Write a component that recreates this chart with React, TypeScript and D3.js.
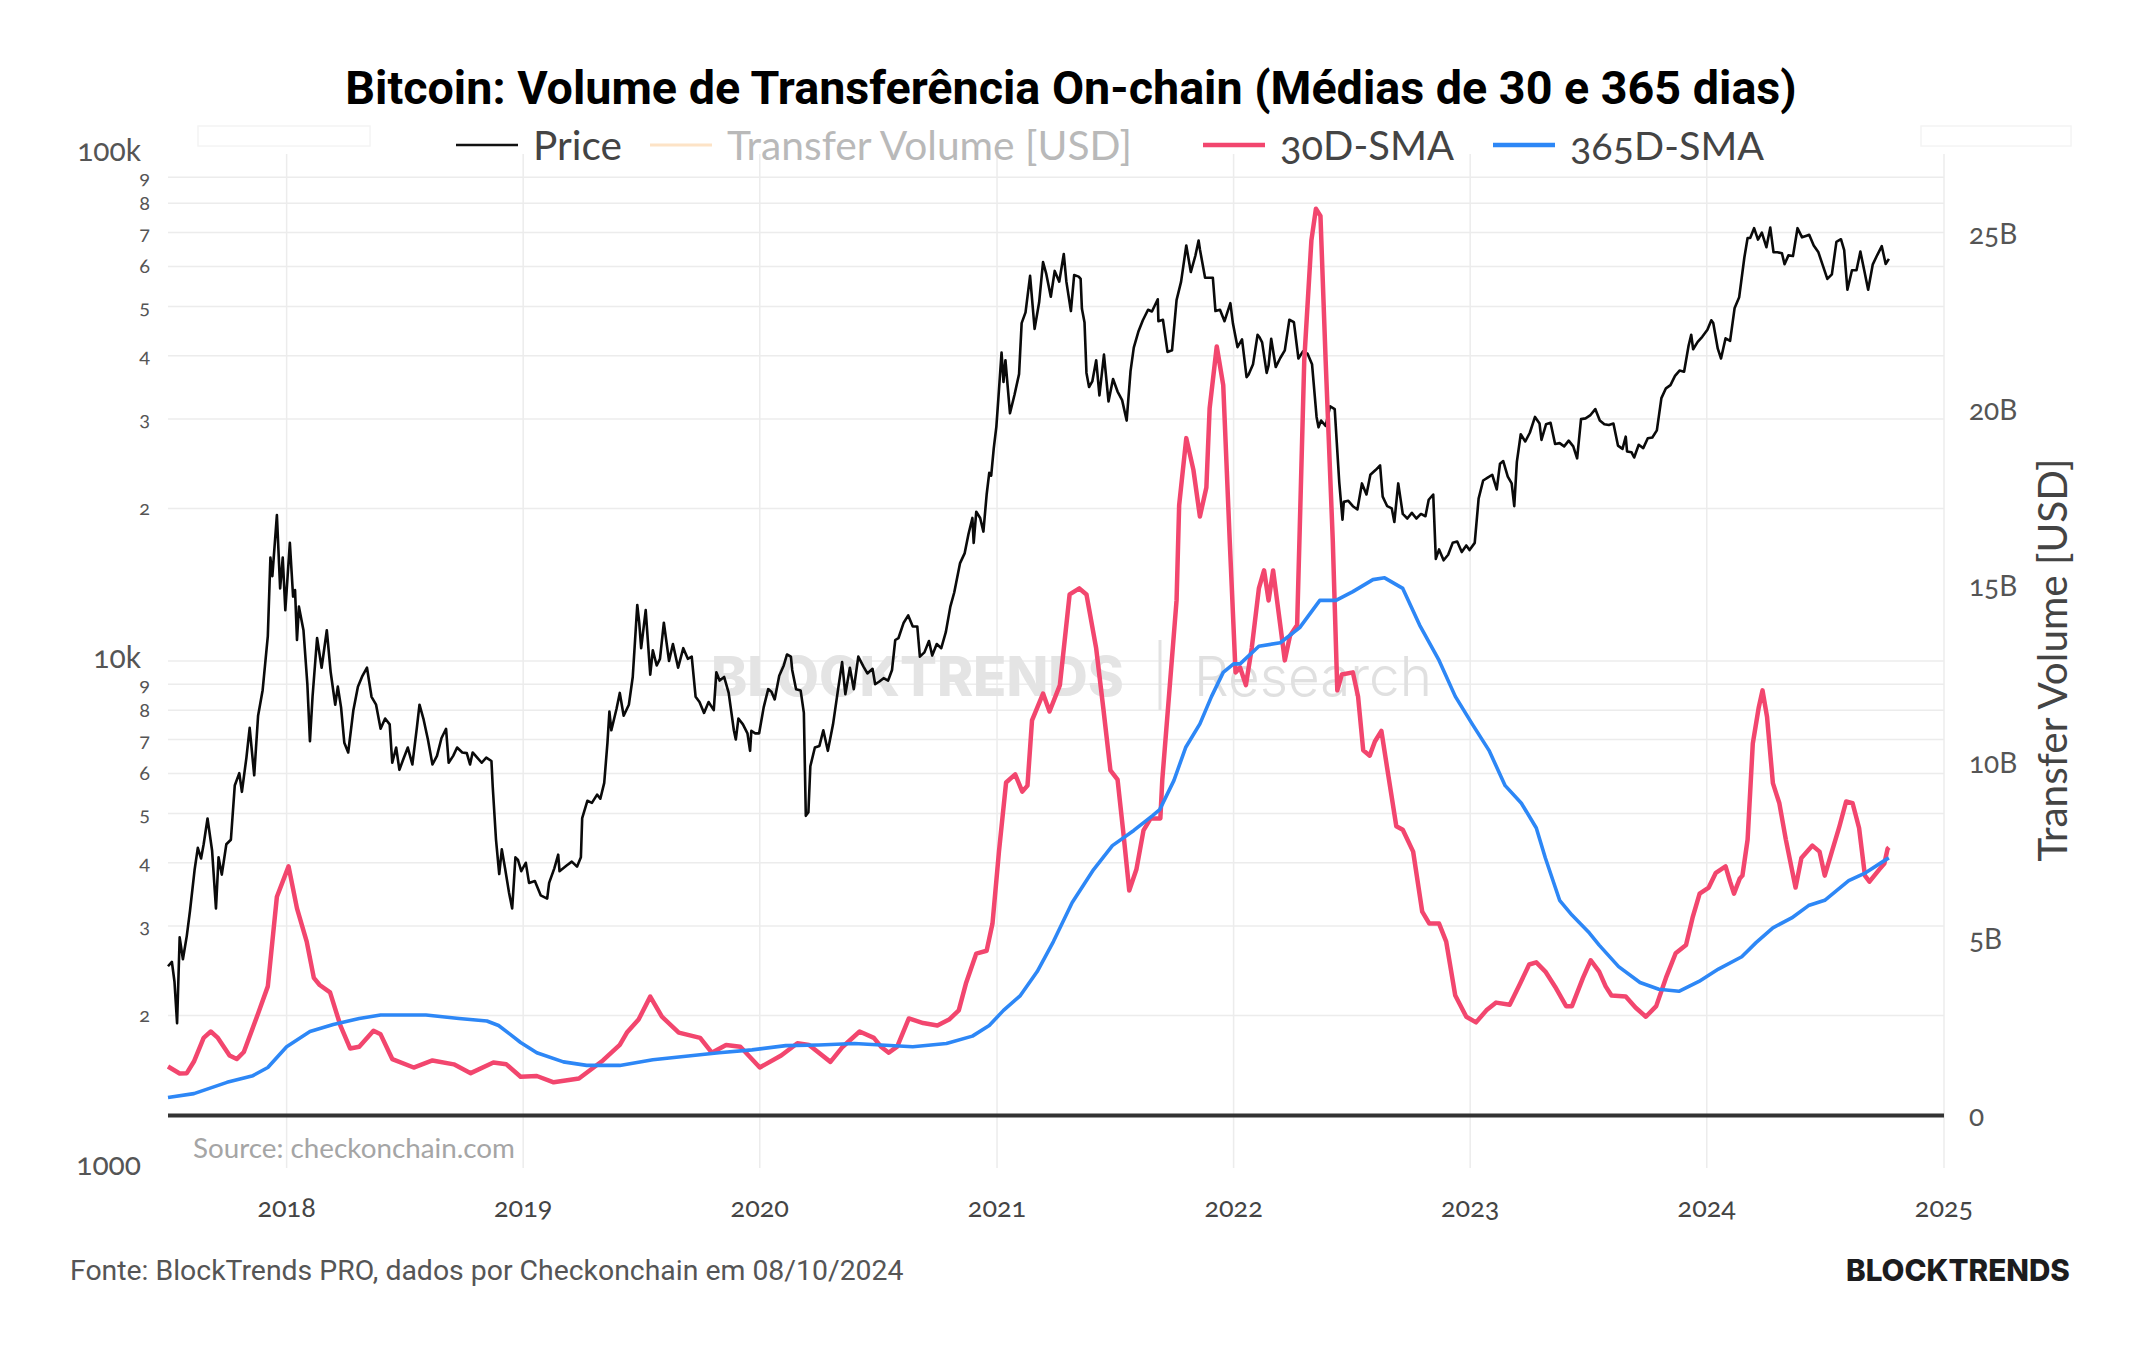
import React, { useLayoutEffect, useRef } from "react";
import * as d3 from "d3";

// ---- Data ---------------------------------------------------------------
// BTC price (USD), left log axis
const priceSeries: [string, number][] = [
  ["2017-07-02", 2500], ["2017-07-08", 2550], ["2017-07-12", 2330], ["2017-07-16", 1930], ["2017-07-20", 2850], ["2017-07-25", 2580], ["2017-07-31", 2870],
  ["2017-08-05", 3220], ["2017-08-12", 3870], ["2017-08-17", 4280], ["2017-08-22", 4080], ["2017-08-26", 4350],
  ["2017-09-01", 4890], ["2017-09-08", 4230], ["2017-09-14", 3250], ["2017-09-18", 4100], ["2017-09-23", 3790], ["2017-09-30", 4350],
  ["2017-10-07", 4440], ["2017-10-13", 5680], ["2017-10-20", 6010], ["2017-10-24", 5520], ["2017-10-31", 6450],
  ["2017-11-05", 7380], ["2017-11-12", 5950], ["2017-11-18", 7800], ["2017-11-25", 8760], ["2017-11-29", 9900],
  ["2017-12-03", 11200], ["2017-12-07", 16000], ["2017-12-10", 14700], ["2017-12-17", 19400], ["2017-12-22", 13900], ["2017-12-26", 16000], ["2017-12-30", 12600],
  ["2018-01-06", 17100], ["2018-01-11", 13400], ["2018-01-14", 13800], ["2018-01-17", 11000], ["2018-01-20", 12800], ["2018-01-27", 11500],
  ["2018-02-02", 9000], ["2018-02-06", 6950], ["2018-02-10", 8500], ["2018-02-17", 11100], ["2018-02-24", 9700],
  ["2018-03-04", 11500], ["2018-03-10", 9500], ["2018-03-17", 8200], ["2018-03-21", 8900], ["2018-03-26", 8100], ["2018-03-31", 6900],
  ["2018-04-06", 6600], ["2018-04-14", 8000], ["2018-04-21", 8900], ["2018-04-28", 9350],
  ["2018-05-05", 9700], ["2018-05-12", 8500], ["2018-05-19", 8200], ["2018-05-26", 7350],
  ["2018-06-02", 7700], ["2018-06-09", 7500], ["2018-06-13", 6300], ["2018-06-19", 6750], ["2018-06-24", 6100], ["2018-06-30", 6400],
  ["2018-07-07", 6750], ["2018-07-14", 6250], ["2018-07-21", 7400], ["2018-07-25", 8200], ["2018-07-31", 7700],
  ["2018-08-07", 7000], ["2018-08-14", 6250], ["2018-08-21", 6500], ["2018-08-28", 7050],
  ["2018-09-04", 7350], ["2018-09-08", 6300], ["2018-09-15", 6500], ["2018-09-21", 6750], ["2018-09-29", 6600],
  ["2018-10-06", 6580], ["2018-10-11", 6250], ["2018-10-15", 6600], ["2018-10-22", 6450], ["2018-10-29", 6300],
  ["2018-11-05", 6450], ["2018-11-13", 6350], ["2018-11-15", 5650], ["2018-11-20", 4450], ["2018-11-25", 3800], ["2018-11-29", 4250],
  ["2018-12-04", 3900], ["2018-12-10", 3500], ["2018-12-15", 3250], ["2018-12-20", 4100], ["2018-12-24", 4050], ["2018-12-29", 3850],
  ["2019-01-05", 4000], ["2019-01-10", 3650], ["2019-01-19", 3680], ["2019-01-28", 3450],
  ["2019-02-07", 3400], ["2019-02-10", 3650], ["2019-02-18", 3900], ["2019-02-24", 4150], ["2019-02-26", 3850],
  ["2019-03-09", 3950], ["2019-03-17", 4020], ["2019-03-25", 3930], ["2019-03-31", 4100],
  ["2019-04-02", 4900], ["2019-04-10", 5300], ["2019-04-17", 5250], ["2019-04-25", 5450], ["2019-04-30", 5350],
  ["2019-05-06", 5750], ["2019-05-11", 6900], ["2019-05-14", 7950], ["2019-05-17", 7300], ["2019-05-25", 8050], ["2019-05-30", 8650],
  ["2019-06-05", 7800], ["2019-06-13", 8200], ["2019-06-19", 9300], ["2019-06-22", 10700], ["2019-06-26", 12900], ["2019-06-29", 11900], ["2019-07-02", 10600],
  ["2019-07-09", 12600], ["2019-07-16", 9400], ["2019-07-20", 10500], ["2019-07-26", 9800], ["2019-07-31", 10100],
  ["2019-08-06", 11900], ["2019-08-14", 10000], ["2019-08-20", 10800], ["2019-08-28", 9700],
  ["2019-09-05", 10600], ["2019-09-12", 10100], ["2019-09-18", 10200], ["2019-09-24", 8500], ["2019-09-30", 8300],
  ["2019-10-07", 7900], ["2019-10-14", 8300], ["2019-10-22", 8000], ["2019-10-26", 9500], ["2019-10-31", 9150],
  ["2019-11-07", 9300], ["2019-11-14", 8650], ["2019-11-22", 7300], ["2019-11-25", 7000], ["2019-11-29", 7700],
  ["2019-12-06", 7500], ["2019-12-13", 7200], ["2019-12-17", 6650], ["2019-12-19", 7280], ["2019-12-25", 7200], ["2019-12-31", 7200],
  ["2020-01-07", 8100], ["2020-01-14", 8800], ["2020-01-19", 8700], ["2020-01-24", 8400], ["2020-01-31", 9350],
  ["2020-02-07", 9800], ["2020-02-12", 10300], ["2020-02-18", 10200], ["2020-02-20", 9600], ["2020-02-26", 8800],
  ["2020-03-04", 8750], ["2020-03-09", 7900], ["2020-03-12", 4950], ["2020-03-16", 5030], ["2020-03-19", 6200], ["2020-03-26", 6750],
  ["2020-04-02", 6800], ["2020-04-08", 7300], ["2020-04-15", 6650], ["2020-04-23", 7500], ["2020-04-30", 8650],
  ["2020-05-07", 9950], ["2020-05-12", 8600], ["2020-05-19", 9700], ["2020-05-25", 8800], ["2020-06-01", 10200],
  ["2020-06-09", 9750], ["2020-06-15", 9450], ["2020-06-23", 9650], ["2020-06-27", 9000], ["2020-07-03", 9100],
  ["2020-07-10", 9250], ["2020-07-17", 9150], ["2020-07-23", 9600], ["2020-07-28", 11000],
  ["2020-08-02", 11100], ["2020-08-10", 11900], ["2020-08-17", 12300], ["2020-08-24", 11700], ["2020-08-31", 11700],
  ["2020-09-04", 10200], ["2020-09-11", 10400], ["2020-09-18", 10950], ["2020-09-23", 10250], ["2020-09-30", 10800],
  ["2020-10-07", 10600], ["2020-10-14", 11400], ["2020-10-21", 12800], ["2020-10-27", 13650],
  ["2020-11-05", 15600], ["2020-11-12", 16300], ["2020-11-18", 17800], ["2020-11-24", 19150], ["2020-11-26", 17100], ["2020-11-30", 19700],
  ["2020-12-06", 19150], ["2020-12-11", 18000], ["2020-12-16", 21300], ["2020-12-20", 23500], ["2020-12-23", 23200], ["2020-12-27", 26300], ["2020-12-31", 29000],
  ["2021-01-03", 32800], ["2021-01-08", 40600], ["2021-01-11", 35500], ["2021-01-14", 39200], ["2021-01-21", 30800], ["2021-01-28", 33500],
  ["2021-02-04", 36800], ["2021-02-08", 46400], ["2021-02-14", 48700], ["2021-02-21", 57500], ["2021-02-28", 45200],
  ["2021-03-07", 51000], ["2021-03-13", 61200], ["2021-03-18", 58000], ["2021-03-25", 52300], ["2021-03-31", 58800],
  ["2021-04-07", 56000], ["2021-04-14", 63500], ["2021-04-18", 56000], ["2021-04-25", 49000], ["2021-04-30", 57700],
  ["2021-05-07", 57300], ["2021-05-10", 56700], ["2021-05-12", 49500], ["2021-05-16", 46500], ["2021-05-19", 37000], ["2021-05-23", 34700], ["2021-05-28", 35600],
  ["2021-06-03", 39200], ["2021-06-08", 33400], ["2021-06-15", 40200], ["2021-06-22", 32500], ["2021-06-29", 36000],
  ["2021-07-06", 34000], ["2021-07-13", 32700], ["2021-07-20", 29800], ["2021-07-26", 37300], ["2021-07-31", 41500],
  ["2021-08-07", 44600], ["2021-08-14", 47000], ["2021-08-22", 49300], ["2021-08-28", 48900],
  ["2021-09-06", 51700], ["2021-09-07", 46800], ["2021-09-14", 47100], ["2021-09-21", 40700], ["2021-09-28", 41000],
  ["2021-10-05", 51500], ["2021-10-12", 56000], ["2021-10-20", 66000], ["2021-10-27", 58500],
  ["2021-11-03", 63000], ["2021-11-08", 67500], ["2021-11-10", 64900], ["2021-11-18", 57000], ["2021-11-24", 57000], ["2021-11-30", 57000],
  ["2021-12-04", 49000], ["2021-12-11", 49300], ["2021-12-18", 46800], ["2021-12-27", 50800], ["2021-12-31", 46300],
  ["2022-01-07", 41600], ["2022-01-14", 43100], ["2022-01-21", 36300], ["2022-01-24", 36700], ["2022-01-31", 38500],
  ["2022-02-07", 44000], ["2022-02-10", 43500], ["2022-02-14", 42500], ["2022-02-21", 37000], ["2022-02-24", 38300], ["2022-02-28", 43200],
  ["2022-03-07", 38000], ["2022-03-14", 39600], ["2022-03-21", 41000], ["2022-03-28", 47100],
  ["2022-04-04", 46600], ["2022-04-11", 39500], ["2022-04-18", 40800], ["2022-04-25", 40400],
  ["2022-05-02", 38500], ["2022-05-09", 30300], ["2022-05-12", 28900], ["2022-05-16", 29800], ["2022-05-23", 29100], ["2022-05-30", 31800],
  ["2022-06-06", 31400], ["2022-06-13", 22500], ["2022-06-18", 19000], ["2022-06-20", 20600], ["2022-06-27", 20700],
  ["2022-07-04", 20200], ["2022-07-11", 19900], ["2022-07-18", 22400], ["2022-07-25", 21300], ["2022-07-31", 23300],
  ["2022-08-08", 23800], ["2022-08-15", 24300], ["2022-08-19", 21100], ["2022-08-26", 20200],
  ["2022-09-02", 20000], ["2022-09-06", 18800], ["2022-09-12", 22400], ["2022-09-19", 19500], ["2022-09-26", 19100],
  ["2022-10-03", 19600], ["2022-10-10", 19100], ["2022-10-17", 19500], ["2022-10-24", 19300], ["2022-10-29", 20800],
  ["2022-11-05", 21300], ["2022-11-09", 15900], ["2022-11-14", 16600], ["2022-11-21", 15800], ["2022-11-28", 16200],
  ["2022-12-05", 17100], ["2022-12-12", 17200], ["2022-12-19", 16400], ["2022-12-26", 16900], ["2022-12-31", 16550],
  ["2023-01-08", 17100], ["2023-01-14", 20900], ["2023-01-21", 22700], ["2023-01-28", 23000],
  ["2023-02-04", 23300], ["2023-02-11", 21800], ["2023-02-16", 24500], ["2023-02-21", 24800], ["2023-02-28", 23100],
  ["2023-03-06", 22400], ["2023-03-10", 20200], ["2023-03-14", 24700], ["2023-03-20", 28000], ["2023-03-27", 27100],
  ["2023-04-03", 28200], ["2023-04-11", 30300], ["2023-04-18", 29400], ["2023-04-21", 27300], ["2023-04-28", 29300],
  ["2023-05-05", 29500], ["2023-05-12", 26800], ["2023-05-19", 26900], ["2023-05-26", 26500],
  ["2023-06-02", 27200], ["2023-06-09", 26500], ["2023-06-15", 25100], ["2023-06-21", 30000], ["2023-06-28", 30100],
  ["2023-07-05", 30500], ["2023-07-13", 31400], ["2023-07-20", 29800], ["2023-07-27", 29300],
  ["2023-08-03", 29200], ["2023-08-10", 29400], ["2023-08-17", 26600], ["2023-08-24", 26200], ["2023-08-29", 27700], ["2023-08-31", 25900],
  ["2023-09-07", 25800], ["2023-09-11", 25200], ["2023-09-18", 26700], ["2023-09-25", 26300],
  ["2023-10-02", 27500], ["2023-10-09", 27600], ["2023-10-16", 28500], ["2023-10-23", 33000], ["2023-10-30", 34500],
  ["2023-11-06", 35000], ["2023-11-13", 36500], ["2023-11-20", 37400], ["2023-11-27", 37200],
  ["2023-12-04", 41900], ["2023-12-08", 44000], ["2023-12-11", 41200], ["2023-12-18", 42600], ["2023-12-25", 43600],
  ["2024-01-02", 45000], ["2024-01-08", 47000], ["2024-01-11", 46400], ["2024-01-18", 41300], ["2024-01-23", 39500], ["2024-01-30", 43300],
  ["2024-02-06", 42800], ["2024-02-13", 49700], ["2024-02-20", 52200], ["2024-02-28", 62500],
  ["2024-03-04", 68300], ["2024-03-08", 68300], ["2024-03-14", 71400], ["2024-03-20", 67800], ["2024-03-26", 70000],
  ["2024-04-02", 65500], ["2024-04-08", 71600], ["2024-04-13", 64000], ["2024-04-19", 64000], ["2024-04-26", 63700], ["2024-04-30", 60600],
  ["2024-05-06", 63100], ["2024-05-13", 62900], ["2024-05-20", 71400], ["2024-05-27", 68500],
  ["2024-06-03", 69000], ["2024-06-07", 69300], ["2024-06-14", 66000], ["2024-06-21", 64100], ["2024-06-28", 60300],
  ["2024-07-05", 56700], ["2024-07-12", 57900], ["2024-07-19", 67100], ["2024-07-26", 67900], ["2024-07-31", 64600],
  ["2024-08-05", 54000], ["2024-08-12", 59000], ["2024-08-19", 59000], ["2024-08-25", 64200], ["2024-08-31", 58900],
  ["2024-09-06", 54000], ["2024-09-13", 60500], ["2024-09-20", 63200], ["2024-09-27", 65800],
  ["2024-10-03", 60700], ["2024-10-08", 62100],
];

// Transfer volume, 30-day simple moving average (billions USD), right axis
const sma30Series: [string, number][] = [
  ["2017-07-02", 1.39], ["2017-07-20", 1.19], ["2017-07-31", 1.2], ["2017-08-11", 1.53], ["2017-08-26", 2.2], ["2017-09-06", 2.38],
  ["2017-09-17", 2.2], ["2017-10-05", 1.7], ["2017-10-16", 1.6], ["2017-10-27", 1.8], ["2017-11-18", 2.89], ["2017-12-03", 3.66],
  ["2017-12-17", 6.2], ["2018-01-04", 7.06], ["2018-01-17", 5.87], ["2018-02-01", 4.93], ["2018-02-12", 3.9], ["2018-02-21", 3.7],
  ["2018-03-09", 3.49], ["2018-03-25", 2.55], ["2018-04-09", 1.9], ["2018-04-23", 1.95], ["2018-05-15", 2.4], ["2018-05-26", 2.3],
  ["2018-06-13", 1.6], ["2018-07-16", 1.36], ["2018-08-14", 1.56], ["2018-09-16", 1.45], ["2018-10-12", 1.2], ["2018-11-16", 1.5],
  ["2018-12-06", 1.45], ["2018-12-28", 1.1], ["2019-01-22", 1.12], ["2019-02-17", 0.94], ["2019-03-28", 1.05], ["2019-05-04", 1.56],
  ["2019-05-30", 2.0], ["2019-06-10", 2.35], ["2019-06-28", 2.72], ["2019-07-16", 3.37], ["2019-08-03", 2.8], ["2019-08-29", 2.35],
  ["2019-10-01", 2.2], ["2019-10-19", 1.78], ["2019-11-10", 2.0], ["2019-12-02", 1.95], ["2020-01-01", 1.36], ["2020-02-03", 1.7],
  ["2020-02-28", 2.05], ["2020-03-17", 2.0], ["2020-04-19", 1.52], ["2020-05-08", 1.95], ["2020-06-03", 2.38], ["2020-06-25", 2.2],
  ["2020-07-06", 1.95], ["2020-07-18", 1.78], ["2020-07-31", 1.95], ["2020-08-18", 2.75], ["2020-09-09", 2.62], ["2020-10-01", 2.55],
  ["2020-10-19", 2.72], ["2020-11-03", 2.98], ["2020-11-14", 3.74], ["2020-11-30", 4.59], ["2020-12-16", 4.67], ["2020-12-25", 5.44],
  ["2021-01-04", 7.48], ["2021-01-15", 9.44], ["2021-01-29", 9.67], ["2021-02-09", 9.18], ["2021-02-17", 9.35], ["2021-02-24", 11.2],
  ["2021-03-13", 11.96], ["2021-03-23", 11.45], ["2021-04-08", 12.2], ["2021-04-23", 14.77], ["2021-05-08", 14.94], ["2021-05-19", 14.77],
  ["2021-06-03", 13.24], ["2021-06-14", 11.54], ["2021-06-25", 9.78], ["2021-07-06", 9.52], ["2021-07-15", 8.0], ["2021-07-24", 6.38],
  ["2021-08-04", 6.97], ["2021-08-15", 8.08], ["2021-08-26", 8.42], ["2021-09-10", 8.42], ["2021-09-13", 9.52], ["2021-09-24", 12.05],
  ["2021-10-05", 14.6], ["2021-10-09", 17.3], ["2021-10-20", 19.2], ["2021-10-31", 18.3], ["2021-11-10", 16.98], ["2021-11-20", 17.8],
  ["2021-11-25", 20.04], ["2021-12-06", 21.8], ["2021-12-16", 20.7], ["2021-12-26", 16.3], ["2022-01-04", 12.56], ["2022-01-11", 12.7],
  ["2022-01-20", 12.2], ["2022-01-29", 13.25], ["2022-02-09", 14.94], ["2022-02-17", 15.45], ["2022-02-24", 14.6], ["2022-03-03", 15.45],
  ["2022-03-14", 13.9], ["2022-03-21", 12.9], ["2022-03-29", 13.6], ["2022-04-09", 13.9], ["2022-04-13", 16.6], ["2022-04-20", 21.4],
  ["2022-05-01", 24.8], ["2022-05-08", 25.7], ["2022-05-15", 25.5], ["2022-05-23", 21.4], ["2022-06-03", 16.3], ["2022-06-10", 12.05],
  ["2022-06-17", 12.5], ["2022-07-04", 12.56], ["2022-07-12", 11.88], ["2022-07-20", 10.35], ["2022-07-30", 10.2], ["2022-08-07", 10.6],
  ["2022-08-17", 10.9], ["2022-08-26", 9.84], ["2022-09-09", 8.2], ["2022-09-19", 8.1], ["2022-10-05", 7.48], ["2022-10-19", 5.78],
  ["2022-10-30", 5.44], ["2022-11-14", 5.44], ["2022-11-25", 4.93], ["2022-12-09", 3.4], ["2022-12-26", 2.8], ["2023-01-10", 2.64],
  ["2023-01-26", 2.98], ["2023-02-10", 3.2], ["2023-03-03", 3.14], ["2023-03-18", 3.7], ["2023-04-02", 4.28], ["2023-04-13", 4.34],
  ["2023-04-27", 4.08], ["2023-05-12", 3.65], ["2023-05-29", 3.1], ["2023-06-07", 3.1], ["2023-06-24", 3.9], ["2023-07-06", 4.4],
  ["2023-07-19", 4.08], ["2023-07-29", 3.66], ["2023-08-07", 3.4], ["2023-08-29", 3.37], ["2023-09-13", 3.06], ["2023-09-29", 2.8],
  ["2023-10-15", 3.1], ["2023-10-30", 3.9], ["2023-11-14", 4.6], ["2023-11-30", 4.83], ["2023-12-10", 5.6], ["2023-12-21", 6.29],
  ["2024-01-04", 6.46], ["2024-01-15", 6.88], ["2024-01-30", 7.06], ["2024-02-06", 6.63], ["2024-02-12", 6.29], ["2024-02-21", 6.72],
  ["2024-02-25", 6.8], ["2024-03-04", 7.82], ["2024-03-12", 10.54], ["2024-03-21", 11.55], ["2024-03-27", 12.05], ["2024-04-03", 11.3],
  ["2024-04-12", 9.42], ["2024-04-22", 8.85], ["2024-05-02", 7.82], ["2024-05-17", 6.46], ["2024-05-26", 7.3], ["2024-06-12", 7.65],
  ["2024-06-23", 7.48], ["2024-07-01", 6.8], ["2024-07-12", 7.48], ["2024-07-23", 8.15], ["2024-08-03", 8.9], ["2024-08-13", 8.85],
  ["2024-08-23", 8.15], ["2024-09-01", 6.8], ["2024-09-08", 6.63], ["2024-09-23", 6.97], ["2024-10-01", 7.14], ["2024-10-06", 7.56],
  ["2024-10-08", 7.6],
];

// Transfer volume, 365-day simple moving average (billions USD), right axis
const sma365Series: [string, number][] = [
  ["2017-07-02", 0.51], ["2017-08-11", 0.62], ["2017-10-01", 0.94], ["2017-11-10", 1.13], ["2017-12-03", 1.36], ["2018-01-01", 1.95],
  ["2018-02-06", 2.38], ["2018-03-14", 2.58], ["2018-04-23", 2.75], ["2018-05-26", 2.85], ["2018-08-04", 2.85], ["2018-09-24", 2.75],
  ["2018-11-06", 2.68], ["2018-11-24", 2.55], ["2018-12-12", 2.3], ["2018-12-28", 2.07], ["2019-01-22", 1.78], ["2019-03-04", 1.52],
  ["2019-04-09", 1.42], ["2019-05-30", 1.42], ["2019-07-20", 1.58], ["2019-09-09", 1.68], ["2019-10-30", 1.78], ["2019-12-20", 1.86],
  ["2020-02-10", 1.98], ["2020-04-01", 2.0], ["2020-05-26", 2.04], ["2020-07-06", 2.0], ["2020-08-24", 1.95], ["2020-10-15", 2.04],
  ["2020-11-24", 2.25], ["2020-12-20", 2.55], ["2021-01-11", 2.98], ["2021-02-06", 3.4], ["2021-03-04", 4.08], ["2021-03-29", 4.93],
  ["2021-04-27", 6.04], ["2021-05-30", 6.97], ["2021-06-28", 7.65], ["2021-07-31", 8.08], ["2021-08-29", 8.5], ["2021-09-09", 8.67],
  ["2021-10-01", 9.5], ["2021-10-19", 10.43], ["2021-11-10", 11.1], ["2021-11-28", 11.88], ["2021-12-16", 12.56], ["2022-01-01", 12.8],
  ["2022-01-11", 12.8], ["2022-02-09", 13.3], ["2022-03-14", 13.4], ["2022-04-13", 13.83], ["2022-05-14", 14.6], ["2022-06-08", 14.6],
  ["2022-07-04", 14.85], ["2022-08-04", 15.19], ["2022-08-22", 15.24], ["2022-09-19", 14.94], ["2022-10-15", 13.9], ["2022-11-14", 12.9],
  ["2022-12-09", 11.88], ["2023-01-04", 11.1], ["2023-01-30", 10.35], ["2023-02-24", 9.35], ["2023-03-21", 8.85], ["2023-04-13", 8.15],
  ["2023-04-27", 7.3], ["2023-05-19", 6.1], ["2023-06-07", 5.68], ["2023-07-04", 5.17], ["2023-07-19", 4.83], ["2023-08-18", 4.22],
  ["2023-09-20", 3.77], ["2023-10-19", 3.58], ["2023-11-19", 3.52], ["2023-12-20", 3.8], ["2024-01-19", 4.15], ["2024-02-24", 4.5],
  ["2024-03-17", 4.9], ["2024-04-12", 5.32], ["2024-05-11", 5.6], ["2024-06-06", 5.95], ["2024-07-01", 6.1], ["2024-08-07", 6.66],
  ["2024-09-02", 6.88], ["2024-10-04", 7.26], ["2024-10-08", 7.3],
];

const yearTicks = [2018, 2019, 2020, 2021, 2022, 2023, 2024, 2025];
const priceMajorTicks: [number, string][] = [[1000, "1000"], [10000, "10k"], [100000, "100k"]];
const priceMinorDigits = [2, 3, 4, 5, 6, 7, 8, 9];
const priceDecades = [1000, 10000];
const volumeTicks: [number, string][] = [[0, "0"], [5, "5B"], [10, "10B"], [15, "15B"], [20, "20B"], [25, "25B"]];

const legendItems = [
  { label: "Price", color: "#111111", text: "#444444", width: 2.5, x: 456, w: 89 },
  { label: "Transfer Volume [USD]", color: "#fde3c6", text: "#b9b9b9", width: 3, x: 650, w: 405 },
  { label: "30D-SMA", color: "#f2466e", text: "#444444", width: 4.5, x: 1203, w: 174 },
  { label: "365D-SMA", color: "#2d87f6", text: "#444444", width: 4.5, x: 1493, w: 194 },
];

// ---- Layout -------------------------------------------------------------
const W = 2144;
const H = 1350;
const plotL = 168;
const plotR = 1944;
const plotT = 154;
const plotB = 1168;

const parse = d3.utcParse("%Y-%m-%d");

const LABEL_FONT = "Lato, 'Open Sans', sans-serif";

export default function App() {
  const svgRef = useRef<SVGSVGElement>(null);

  // Scale text with a target width so the drawn run length matches the layout
  useLayoutEffect(() => {
    const svg = svgRef.current;
    if (!svg) return;
    svg.querySelectorAll<SVGTextElement>("text[data-fit]").forEach((t) => {
      const target = parseFloat(t.getAttribute("data-fit") || "0");
      const fs = parseFloat(t.getAttribute("font-size") || "20");
      const w = t.getComputedTextLength();
      if (w > 0 && target > 0) t.setAttribute("font-size", String((fs * target) / w));
    });
  }, []);

  const x = d3.scaleUtc().domain([parse("2017-07-02")!, parse("2025-01-01")!]).range([plotL, plotR]);
  const yPrice = d3.scaleLog().domain([1000, 100000]).range([plotB, plotT]);
  const yVol = d3.scaleLinear().domain([0, 25]).range([1115.5, 233.5]);

  const priceLine = d3
    .line<[string, number]>()
    .x((d) => x(parse(d[0])!))
    .y((d) => yPrice(d[1]));
  const volLine = d3
    .line<[string, number]>()
    .x((d) => x(parse(d[0])!))
    .y((d) => yVol(d[1]));

  const minorTicks: number[] = [];
  priceDecades.forEach((dec) => priceMinorDigits.forEach((m) => minorTicks.push(dec * m)));
  const gridTicks = [...minorTicks, 10000];

  return (
    <div style={{ position: "absolute", left: 0, top: 0, width: W, height: H, background: "#fff" }}>
      <svg ref={svgRef} width={W} height={H} viewBox={`0 0 ${W} ${H}`} style={{ display: "block" }}>
        <rect x={0} y={0} width={W} height={H} fill="#ffffff" />

        {/* faint legend frames */}
        <rect x={198} y={126} width={172} height={20} fill="none" stroke="#f4f4f4" strokeWidth={1.5} />
        <rect x={1921} y={126} width={150} height={20} fill="none" stroke="#f4f4f4" strokeWidth={1.5} />

        {/* grid */}
        <g stroke="#ececec" strokeWidth={1.5}>
          {gridTicks.map((v) => (
            <line key={`h${v}`} x1={plotL} x2={plotR} y1={yPrice(v)} y2={yPrice(v)} />
          ))}
          {yearTicks.map((yr) => {
            const xx = x(parse(`${yr}-01-01`)!);
            return <line key={`v${yr}`} x1={xx} x2={xx} y1={plotT} y2={plotB} />;
          })}
        </g>

        {/* watermark */}
        <g>
          <text
            x={711}
            y={676}
            data-fit={413}
            fontSize={54}
            fontFamily="Inter, 'Noto Sans', sans-serif"
            fontWeight={800}
            fill="#e4e4e4"
            dominantBaseline="central"
          >
            BLOCKTRENDS
          </text>
          <line x1={1160} x2={1160} y1={640} y2={710} stroke="#e2e2e2" strokeWidth={3} />
          <text
            x={1194}
            y={676}
            data-fit={238}
            fontSize={54}
            fontFamily="Inter, 'Noto Sans', sans-serif"
            fontWeight={300}
            fill="#e0e0e0"
            dominantBaseline="central"
          >
            Research
          </text>
        </g>

        {/* zero line of the volume axis */}
        <line x1={plotL} x2={plotR} y1={yVol(0)} y2={yVol(0)} stroke="#333333" strokeWidth={4} />

        {/* series */}
        <path d={priceLine(priceSeries) || ""} fill="none" stroke="#0a0a0a" strokeWidth={2.6} strokeLinejoin="round" />
        <path d={volLine(sma30Series) || ""} fill="none" stroke="#f2466e" strokeWidth={4.5} strokeLinejoin="round" />
        <path d={volLine(sma365Series) || ""} fill="none" stroke="#2d87f6" strokeWidth={3.6} strokeLinejoin="round" />

        {/* left axis labels */}
        <g fontFamily={LABEL_FONT} fill="#555555" style={{ fontVariantNumeric: "oldstyle-nums" }}>
          {priceMajorTicks.map(([v, l]) => (
            <text key={l} x={141} y={yPrice(v) - 5} fontSize={30} textAnchor="end" dominantBaseline="central">
              {l}
            </text>
          ))}
          {minorTicks.map((v) => (
            <text key={v} x={150} y={yPrice(v) - 1} fontSize={20} textAnchor="end" dominantBaseline="central">
              {String(Math.round(v / (v >= 10000 ? 10000 : 1000)))}
            </text>
          ))}
        </g>

        {/* right axis labels */}
        <g fontFamily={LABEL_FONT} fill="#555555" style={{ fontVariantNumeric: "oldstyle-nums" }}>
          {volumeTicks.map(([v, l]) => (
            <text key={l} x={1969} y={yVol(v) - 1} fontSize={28} dominantBaseline="central">
              {l}
            </text>
          ))}
        </g>
        <text
          transform="translate(2051,660) rotate(-90)"
          data-fit={403}
          fontSize={37}
          fontFamily={LABEL_FONT}
          fill="#444444"
          textAnchor="middle"
          dominantBaseline="central"
        >
          Transfer Volume [USD]
        </text>

        {/* x axis labels */}
        <g fontFamily={LABEL_FONT} fill="#444444" style={{ fontVariantNumeric: "oldstyle-nums" }}>
          {yearTicks.map((yr) => (
            <text key={yr} x={x(parse(`${yr}-01-01`)!)} y={1206} fontSize={27} textAnchor="middle" dominantBaseline="central">
              {yr}
            </text>
          ))}
        </g>

        {/* source note inside plot */}
        <text x={193} y={1147} data-fit={322} fontSize={27} fontFamily={LABEL_FONT} fill="#a5a5a5" dominantBaseline="central">
          Source: checkonchain.com
        </text>

        {/* title */}
        <text
          x={1071}
          y={88}
          data-fit={1452}
          fontSize={40}
          fontFamily="Roboto, 'Noto Sans', sans-serif"
          fontWeight={700}
          fill="#000000"
          textAnchor="middle"
          dominantBaseline="central"
        >
          Bitcoin: Volume de Transferência On-chain (Médias de 30 e 365 dias)
        </text>

        {/* legend */}
        <g>
          {legendItems.map((it) => (
            <g key={it.label}>
              <line x1={it.x} x2={it.x + 62} y1={145} y2={145} stroke={it.color} strokeWidth={it.width} />
              <text
                x={it.x + 77}
                y={144}
                data-fit={it.w}
                fontSize={36}
                fontFamily={LABEL_FONT}
                fill={it.text}
                dominantBaseline="central"
                style={{ fontVariantNumeric: "oldstyle-nums" }}
              >
                {it.label}
              </text>
            </g>
          ))}
        </g>

        {/* footer */}
        <text x={70} y={1270} data-fit={834} fontSize={27} fontFamily="Roboto, 'Noto Sans', sans-serif" fill="#555555" dominantBaseline="central">
          Fonte: BlockTrends PRO, dados por Checkonchain em 08/10/2024
        </text>
        <text
          x={1846}
          y={1270}
          data-fit={224}
          fontSize={27}
          fontFamily="Inter, 'Noto Sans', sans-serif"
          fontWeight={800}
          fill="#1c1c1e"
          dominantBaseline="central"
        >
          BLOCKTRENDS
        </text>
      </svg>
    </div>
  );
}
